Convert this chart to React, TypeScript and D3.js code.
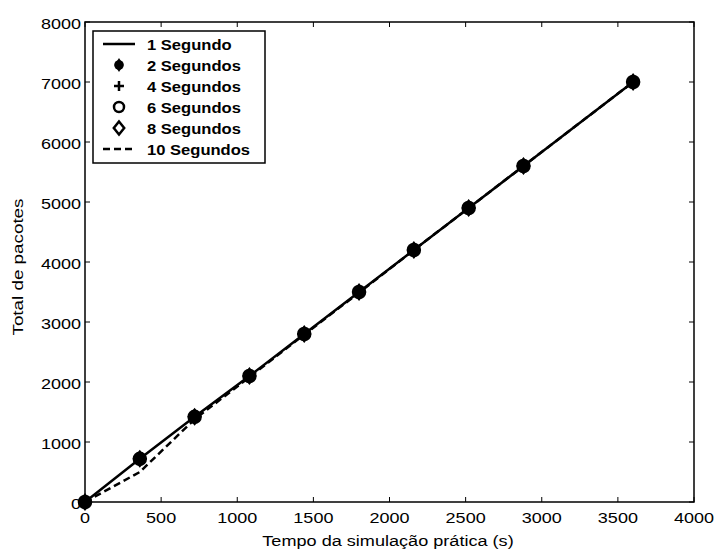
import React from "react";
import * as d3 from "d3";

const times = [0, 360, 720, 1080, 1440, 1800, 2160, 2520, 2880, 3600];
const s1 = [0, 720, 1420, 2100, 2800, 3500, 4200, 4900, 5600, 7000];
const s2 = [0, 720, 1420, 2100, 2800, 3500, 4200, 4900, 5600, 7000];
const s4 = [0, 720, 1420, 2100, 2800, 3500, 4200, 4900, 5600, 7000];
const s6 = [0, 720, 1420, 2100, 2800, 3500, 4200, 4900, 5600, 7000];
const s8 = [0, 720, 1420, 2100, 2800, 3500, 4200, 4900, 5600, 7000];
const s10 = [0, 500, 1380, 2080, 2790, 3490, 4200, 4900, 5600, 7000];
const xTicks = [0, 500, 1000, 1500, 2000, 2500, 3000, 3500, 4000];
const yTicks = [0, 1000, 2000, 3000, 4000, 5000, 6000, 7000, 8000];
const legendLabels = ["1 Segundo", "2 Segundos", "4 Segundos", "6 Segundos", "8 Segundos", "10 Segundos"];

const L = 85, R = 694, T = 22, B = 502;
const font = "Arial, 'Liberation Sans', Helvetica, sans-serif";

function HText({ x, y, anchor, sx, fs, bold, children }: any) {
  return (
    <text
      transform={`translate(${x},${y}) scale(${sx},1)`}
      textAnchor={anchor}
      fontFamily={font}
      fontSize={fs}
      fontWeight={bold ? "bold" : "normal"}
    >
      {children}
    </text>
  );
}

function Star({ x, y, r }: { x: number; y: number; r: number }) {
  return (
    <g>
      <circle cx={x} cy={y} r={r * 0.8} fill="black" />
      <path d={`M${x},${y - r * 1.15}L${x + r * 0.75},${y}L${x},${y + r * 1.15}L${x - r * 0.75},${y}Z`} fill="black" />
    </g>
  );
}
function Plus({ x, y, r }: { x: number; y: number; r: number }) {
  return <path d={`M${x - r},${y}H${x + r}M${x},${y - r}V${y + r}`} stroke="black" strokeWidth={2.5} />;
}
function Circ({ x, y, r }: { x: number; y: number; r: number }) {
  return <circle cx={x} cy={y} r={r} fill="none" stroke="black" strokeWidth={2.5} />;
}
function Diam({ x, y, r }: { x: number; y: number; r: number }) {
  return <path d={`M${x},${y - r}L${x + r * 0.8},${y}L${x},${y + r}L${x - r * 0.8},${y}Z`} fill="none" stroke="black" strokeWidth={2.5} />;
}

export default function App() {
  const x = d3.scaleLinear().domain([0, 4000]).range([L, R]);
  const y = d3.scaleLinear().domain([0, 8000]).range([B, T]);
  const line = (vals: number[]) =>
    d3.line<number>().x((_, i) => x(times[i])).y((v) => y(v))(vals) || "";

  const legX = 93, legY = 31, legW = 172, legH = 132;
  const rowY = (i: number) => 44 + i * 21;

  return (
    <svg width={716} height={549} style={{ position: "absolute", left: 0, top: 0, background: "white" }}>
      <rect x={0} y={0} width={716} height={549} fill="white" />
      {xTicks.map((t) => (
        <g key={"xt" + t}>
          <line x1={x(t)} x2={x(t)} y1={B} y2={B - 5} stroke="black" strokeWidth={1} />
          <line x1={x(t)} x2={x(t)} y1={T} y2={T + 5} stroke="black" strokeWidth={1} />
          <HText x={x(t)} y={B + 21} anchor="middle" sx={1.17} fs={15.4}>{t}</HText>
        </g>
      ))}
      {yTicks.map((t) => (
        <g key={"yt" + t}>
          <line x1={L} x2={L + 5} y1={y(t)} y2={y(t)} stroke="black" strokeWidth={1} />
          <line x1={R} x2={R - 5} y1={y(t)} y2={y(t)} stroke="black" strokeWidth={1} />
          <HText x={L - 4} y={y(t) + 6.5} anchor="end" sx={1.17} fs={15.4}>{t}</HText>
        </g>
      ))}
      <rect x={L} y={T} width={R - L} height={B - T} fill="none" stroke="black" strokeWidth={1.5} />
      <path d={line(s10)} fill="none" stroke="black" strokeWidth={2.5} strokeDasharray="7,4" />
      <path d={line(s1)} fill="none" stroke="black" strokeWidth={2.5} />
      {times.map((t, i) => (
        <g key={"m" + i}>
          <Circ x={x(t)} y={y(s6[i])} r={6} />
          <Diam x={x(t)} y={y(s8[i])} r={7} />
          <Plus x={x(t)} y={y(s4[i])} r={6} />
          <Star x={x(t)} y={y(s2[i])} r={7} />
        </g>
      ))}
      <HText x={388} y={546} anchor="middle" sx={1.175} fs={15.4}>Tempo da simulação prática (s)</HText>
      <text
        transform={`translate(23,267) rotate(-90)`}
        textAnchor="middle"
        fontFamily={font}
        fontSize={15.4}
        textLength={137}
        lengthAdjust="spacingAndGlyphs"
      >
        Total de pacotes
      </text>
      <rect x={legX} y={legY} width={legW} height={legH} fill="white" stroke="black" strokeWidth={1.5} />
      <line x1={103} x2={135} y1={rowY(0)} y2={rowY(0)} stroke="black" strokeWidth={2.5} />
      <Star x={119} y={rowY(1)} r={6} />
      <Plus x={119} y={rowY(2)} r={5} />
      <Circ x={119} y={rowY(3)} r={5} />
      <Diam x={119} y={rowY(4)} r={6.5} />
      <line x1={103} x2={135} y1={rowY(5)} y2={rowY(5)} stroke="black" strokeWidth={2.5} strokeDasharray="7,4" />
      {legendLabels.map((lab, i) => (
        <HText key={lab} x={147} y={rowY(i) + 5.5} anchor="start" sx={1.076} fs={15.4} bold>{lab}</HText>
      ))}
    </svg>
  );
}
